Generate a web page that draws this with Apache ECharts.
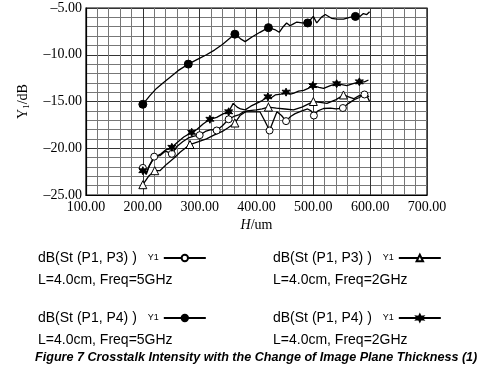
<!DOCTYPE html>
<html>
<head>
<meta charset="utf-8">
<script src="https://cdn.jsdelivr.net/npm/echarts@6/dist/echarts.min.js"></script>
<style>html,body{margin:0;padding:0;background:#fff}#c{width:482px;height:374px}</style>
</head>
<body>
<div id="c"></div>
<script>
// ---- data ----
const xTicks = [100, 200, 300, 400, 500, 600, 700];
const yTicks = [-25, -20, -15, -10, -5];

const seriesNames = ['P3_5G', 'P3_2G', 'P4_5G', 'P4_2G'];
const legendLine1 = ['dB(St (P1, P3) )', 'dB(St (P1, P3) )', 'dB(St (P1, P4) )', 'dB(St (P1, P4) )'];
const legendLine2 = ['L=4.0cm, Freq=5GHz', 'L=4.0cm, Freq=2GHz', 'L=4.0cm, Freq=5GHz', 'L=4.0cm, Freq=2GHz'];
const caption = 'Figure 7 Crosstalk Intensity with the Change of Image Plane Thickness (1)';

// dB(St(P1,P3)) 5GHz  (open circles)
const p3_5g = [[200,-22.1],[206,-22.6],[212,-21.8],[220,-20.9],[230,-20.8],[240,-20.3],[251,-20.6],[260,-19.8],[270,-19.3],[280,-18.9],[290,-18.7],[300,-18.6],[310,-18.2],[320,-18.0],[330,-18.1],[340,-17.6],[351,-16.9],[360,-16.6],[370,-16.4],[377,-16.1],[390,-16.1],[406,-16.1],[414,-17.0],[423,-18.1],[430,-17.0],[436,-16.1],[444,-16.5],[452,-17.1],[460,-16.6],[468,-16.3],[480,-16.0],[490,-15.8],[496,-16.0],[501,-16.5],[508,-16.0],[518,-15.75],[530,-15.7],[540,-15.8],[552,-15.7],[562,-15.2],[572,-14.8],[580,-14.6],[590,-14.25],[595,-14.5],[599,-15.0]];
const p3_5g_marks = [200, 220, 251, 300, 330, 351, 423, 452, 501, 552, 590];

// dB(St(P1,P3)) 2GHz  (open triangles)
const p3_2g = [[200,-23.9],[210,-23.0],[221,-22.4],[230,-22.4],[242,-21.7],[254,-21.1],[266,-20.4],[283,-19.6],[298,-19.3],[312,-19.0],[325,-18.6],[340,-18.2],[350,-17.8],[362,-17.3],[371,-16.5],[383,-16.0],[400,-15.9],[410,-15.8],[421,-15.6],[435,-15.7],[450,-15.8],[465,-15.9],[480,-15.6],[490,-15.3],[500,-15.0],[512,-15.1],[524,-15.2],[540,-14.8],[553,-14.3],[562,-14.5],[571,-14.7],[580,-14.4],[591,-14.2],[598,-14.5]];
const p3_2g_marks = [200, 221, 283, 362, 421, 500, 553];

// dB(St(P1,P4)) 5GHz  (filled circles)
const p4_5g = [[200,-15.3],[212,-14.4],[224,-13.6],[236,-13.0],[248,-12.4],[262,-11.7],[280,-11.0],[296,-10.5],[312,-10.0],[326,-9.5],[340,-8.9],[352,-8.3],[362,-7.8],[372,-8.3],[380,-8.6],[392,-8.1],[406,-7.6],[421,-7.1],[432,-7.3],[440,-7.6],[447,-7.0],[453,-6.6],[459,-6.9],[465,-6.7],[471,-6.5],[480,-6.6],[490,-6.6],[500,-5.9],[506,-6.6],[514,-6.0],[521,-5.7],[532,-6.1],[542,-6.2],[553,-6.2],[564,-6.0],[574,-5.9],[582,-5.9],[588,-5.6],[594,-5.7],[599,-5.4]];
const p4_5g_marks = [200, 280, 362, 421, 490, 574];

// dB(St(P1,P4)) 2GHz  (stars)
const p4_2g = [[200,-22.4],[206,-22.8],[212,-21.8],[220,-21.0],[232,-20.6],[240,-20.2],[251,-19.9],[262,-19.3],[272,-18.8],[286,-18.3],[295,-18.0],[306,-17.4],[318,-16.9],[330,-16.7],[342,-16.3],[351,-16.1],[359,-15.2],[366,-15.6],[372,-15.8],[380,-15.9],[390,-15.5],[400,-15.2],[410,-14.9],[420,-14.5],[426,-14.6],[433,-14.3],[443,-14.2],[452,-14.0],[460,-14.2],[466,-14.1],[474,-13.9],[483,-13.8],[491,-13.6],[499,-13.3],[510,-13.5],[518,-13.6],[530,-13.3],[541,-13.1],[550,-13.2],[559,-13.3],[570,-13.1],[581,-12.9],[590,-12.9],[597,-12.7]];
const p4_2g_marks = [200, 251, 286, 318, 351, 420, 452, 499, 541, 581];

// ---- chart ----
const starPath = 'path://M0,-10 L2.5,-4.3 L8.7,-5 L5,0 L8.7,5 L2.5,4.3 L0,10 L-2.5,4.3 L-8.7,5 L-5,0 L-8.7,-5 L-2.5,-4.3 Z';
const serif = '"Liberation Serif","Times New Roman",serif';
const sans = '"Liberation Sans",Arial,sans-serif';

function sizeFn(marks, sz) {
  return function (val) { return marks.indexOf(val[0]) >= 0 ? sz : 0; };
}

const chart = echarts.init(document.getElementById('c'), null, {renderer: 'canvas'});

function mkSeries(name, data, marks, symbol, size, fill) {
  return {
    name: name, type: 'line', data: data, symbol: symbol, showSymbol: true,
    symbolSize: sizeFn(marks, size),
    lineStyle: {color: '#000', width: 1.3},
    itemStyle: {color: fill, borderColor: '#000', borderWidth: 1},
    emphasis: {disabled: true}, animation: false, z: 5
  };
}

const legendPos = [[38, 251], [273, 251], [38, 311], [273, 311]];
const legends = seriesNames.map((n, i) => ({
  data: [n], left: legendPos[i][0], top: legendPos[i][1], align: 'right',
  itemWidth: 42, itemHeight: 8, padding: 0,
  formatter: () => '{t|' + legendLine1[i] + '}{y|Y1}',
  textStyle: {
    rich: {
      t: {fontFamily: sans, fontSize: 14, color: '#000'},
      y: {fontFamily: sans, fontSize: 9, color: '#000', padding: [0, 0, 1, 11]}
    }
  },
  selectedMode: false
}));

const graphics = legendLine2.map((t, i) => ({
  type: 'text', left: legendPos[i][0], top: legendPos[i][1] + 22,
  style: {text: t, font: '14px ' + sans, fill: '#000'}
}));

chart.setOption({
  backgroundColor: '#fff',
  animation: false,
  title: {
    text: caption, left: 35, top: 351, padding: 0,
    textStyle: {fontFamily: sans, fontSize: 12.6, fontWeight: 'bold', fontStyle: 'italic', color: '#000'}
  },
  grid: {left: 86, right: 55, top: 8, bottom: 179, show: true, borderColor: '#000', borderWidth: 1.2, containLabel: false},
  legend: legends,
  graphic: graphics,
  xAxis: {
    type: 'value', min: xTicks[0], max: xTicks[xTicks.length - 1], interval: 100,
    name: '{i|H}/um', nameLocation: 'middle', nameGap: 23,
    nameTextStyle: {fontFamily: serif, fontSize: 14, color: '#000', rich: {i: {fontFamily: serif, fontSize: 14, fontStyle: 'italic', color: '#000'}}},
    axisLine: {show: true, lineStyle: {color: '#000', width: 1.2}},
    axisTick: {show: false},
    axisLabel: {fontFamily: serif, fontSize: 14, color: '#000', margin: 5, formatter: v => v.toFixed(2)},
    splitLine: {show: true, lineStyle: {color: '#333', width: 1}},
    minorTick: {show: false, splitNumber: 5},
    minorSplitLine: {show: true, lineStyle: {color: '#777', width: 1}}
  },
  yAxis: {
    type: 'value', min: yTicks[0], max: yTicks[yTicks.length - 1], interval: 5,
    name: 'Y{s|1}/dB', nameLocation: 'middle', nameGap: 55, nameRotate: 90,
    nameTextStyle: {fontFamily: serif, fontSize: 14, color: '#000', rich: {s: {fontFamily: serif, fontSize: 9, color: '#000', padding: [6, 0, 0, 0]}}},
    axisLine: {show: true, lineStyle: {color: '#000', width: 1.2}},
    axisTick: {show: false},
    axisLabel: {fontFamily: serif, fontSize: 14, color: '#000', margin: 4, formatter: v => v.toFixed(2).replace('-', '\u2013')},
    splitLine: {show: true, lineStyle: {color: '#333', width: 1}},
    minorTick: {show: false, splitNumber: 5},
    minorSplitLine: {show: true, lineStyle: {color: '#777', width: 1}}
  },
  series: [
    mkSeries(seriesNames[0], p3_5g, p3_5g_marks, 'circle', 7, '#fff'),
    mkSeries(seriesNames[1], p3_2g, p3_2g_marks, 'triangle', 8, '#fff'),
    mkSeries(seriesNames[2], p4_5g, p4_5g_marks, 'circle', 8, '#000'),
    mkSeries(seriesNames[3], p4_2g, p4_2g_marks, starPath, 8, '#000')
  ]
});
</script>
</body>
</html>
